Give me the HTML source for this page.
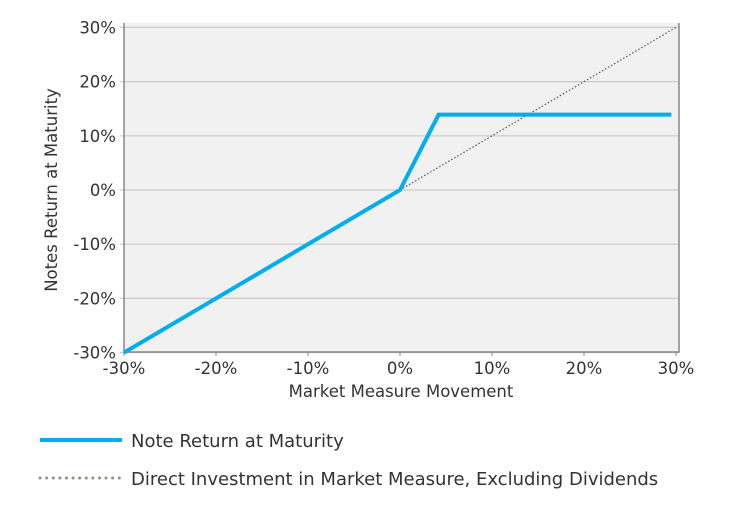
<!DOCTYPE html>
<html><head><meta charset="utf-8"><style>
body{margin:0;background:#fff;width:737px;height:502px;overflow:hidden}
text{font-family:"DejaVu Sans","Liberation Sans",sans-serif;fill:#333}
</style></head><body>
<svg width="737" height="502">
<g id="plot"></g>
<g id="legend">
<line x1="40" y1="440" x2="122" y2="440" stroke="#00AEEF" stroke-width="4"/>
<text x="131" y="447" font-size="18" fill="#555">Note Return at Maturity</text>
<line x1="40" y1="478" x2="122" y2="478" stroke="#9a8f80" stroke-width="3" stroke-linecap="round" stroke-dasharray="0.1,6.5"/>
<text x="131" y="485" font-size="18" fill="#555">Direct Investment in Market Measure, Excluding Dividends</text>
</g>
</svg>
<script>
const xTicks=[-30,-20,-10,0,10,20,30];
const yTicks=[-30,-20,-10,0,10,20,30];
const noteX=[-30,0,4.2,29.5];
const noteY=[-30,0,13.9,13.9];
const directX=[0,30];
const directY=[0,30];
const L=124,R=679,T=27,B=352;
const sx=v=>400+v*9.2;
const sy=v=>190-v*5.42;
const ns="http://www.w3.org/2000/svg";
const g=document.getElementById('plot');
function mk(t,a,p){const e=document.createElementNS(ns,t);for(const k in a)e.setAttribute(k,a[k]);(p||g).appendChild(e);return e;}
const bg=mk('rect',{x:L,y:T-4,width:R-L,height:B-T+4,fill:'#f1f1f1'});


yTicks.forEach(v=>{
 const l=mk('line',{x1:L-4,x2:R,y1:sy(v),y2:sy(v),stroke:'#cfcac4','stroke-width':1.2});
 
 
 const t=mk('text',{x:L-8,y:sy(v)+6,'text-anchor':'end','font-size':16.5});
 t.textContent=v+'%';
 
 
});
xTicks.forEach(v=>{
 const l=mk('line',{x1:sx(v),x2:sx(v),y1:B,y2:B+4,stroke:'#888'});
 
 
 const t=mk('text',{x:sx(v),y:B+22,'text-anchor':'middle','font-size':16.5});
 t.textContent=v+'%';
 
 
});
const fr=mk('path',{d:`M${L},${T-4}V${B}H${R}V${T-4}`,fill:'none',stroke:'#888','stroke-width':1.5});


const dp=mk('polyline',{points:directX.map((x,i)=>sx(x)+','+sy(directY[i])).join(' '),fill:'none',stroke:'#555','stroke-width':1.2,'stroke-dasharray':'1.5,2'});


const np=mk('polyline',{points:noteX.map((x,i)=>sx(x)+','+sy(noteY[i])).join(' '),fill:'none',stroke:'#00AEEF','stroke-width':4});


const xt=mk('text',{x:401,y:397,'text-anchor':'middle','font-size':16.5});
xt.textContent='Market Measure Movement';


const yt=mk('text',{x:0,y:0,'text-anchor':'middle','font-size':16.5,transform:'translate(57,190) rotate(-90)'});
yt.textContent='Notes Return at Maturity';


</script>
</body></html>
